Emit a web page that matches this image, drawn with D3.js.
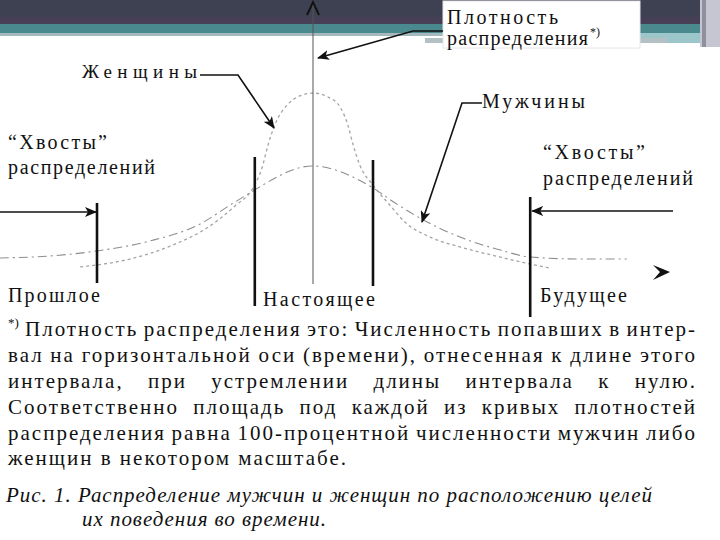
<!DOCTYPE html>
<html>
<head>
<meta charset="utf-8">
<script src="https://cdn.jsdelivr.net/npm/d3@7"></script>
<style>
  body { margin: 0; background: #fff; }
  svg { display: block; }
</style>
</head>
<body>
<script>
// density curves: t = time (0 = present), d = relative density
var womenT = [-3.88, -3.6, -3.05, -2.38, -1.72, -1.3, -1.0, -0.85, -0.75, -0.63, -0.43, -0.22, 0, 0.25, 0.45, 0.58, 0.67, 0.78, 1.0, 1.28, 1.53, 1.95, 2.45, 3.12, 3.62, 3.95];
var womenD = [0.017, 0.028, 0.061, 0.133, 0.244, 0.356, 0.456, 0.567, 0.694, 0.811, 0.917, 0.967, 0.983, 0.961, 0.906, 0.806, 0.694, 0.583, 0.472, 0.361, 0.267, 0.183, 0.128, 0.072, 0.033, 0.011];
var menT = [-5.22, -4.38, -3.6, -2.72, -1.88, -1.38, -1.0, -0.63, -0.3, 0, 0.32, 0.7, 1.0, 1.37, 1.78, 2.45, 3.12, 3.62, 4.45, 5.23];
var menD = [0.067, 0.078, 0.106, 0.161, 0.256, 0.361, 0.439, 0.511, 0.561, 0.578, 0.561, 0.511, 0.456, 0.372, 0.289, 0.183, 0.111, 0.072, 0.061, 0.061];

// time boundaries: past | present (two edges) | future
var bounds = [-3.6, -0.97, 1.0, 3.62];

var footnote = [
  "Плотность распределения это: Численность попавших в интер-",
  "вал на горизонтальной оси (времени), отнесенная к длине этого",
  "интервала, при устремлении длины интервала к нулю.",
  "Соответственно площадь под каждой из кривых плотностей",
  "распределения равна 100-процентной численности мужчин либо",
  "женщин в некотором масштабе."
];
var caption = [
  "Рис. 1. Распределение мужчин и женщин по расположению целей",
  "их поведения во времени."
];

var FONT = "'Liberation Serif'";

var w = 720, h = 540;
var svg = d3.select("body").append("svg")
    .attr("width", w)
    .attr("height", h);

// every text goes through here so the serif face is set on the element itself
function txt(sel) {
  return sel.append("text").style("font-family", FONT).attr("fill", "#111");
}

var x = d3.scaleLinear().domain([-5.2, 6.8]).range([1, 721]);
var y = d3.scaleLinear().domain([0, 1]).range([270, 90]);

// slide header
svg.append("rect").attr("x", 0).attr("y", 0).attr("width", w).attr("height", 24).attr("fill", "#3e4151");
svg.append("rect").attr("x", 0).attr("y", 17).attr("width", w).attr("height", 7).attr("fill", "#463f55");
svg.append("rect").attr("x", 0).attr("y", 24).attr("width", w).attr("height", 9).attr("fill", "#4a8a8f");
svg.append("rect").attr("x", 0).attr("y", 33).attr("width", w).attr("height", 3).attr("fill", "#a5b8be");
svg.append("rect").attr("x", 640).attr("y", 33).attr("width", 60).attr("height", 10).attr("fill", "#9cc6ca");
svg.append("rect").attr("x", 425).attr("y", 38).attr("width", 242).attr("height", 5).attr("fill", "#b3c1c5");
svg.append("rect").attr("x", 700).attr("y", 0).attr("width", 20).attr("height", 47).attr("fill", "#c6c6d2");
svg.append("rect").attr("x", 702).attr("y", 0).attr("width", 4).attr("height", 47).attr("fill", "#8f909e");
// white label box
svg.append("rect").attr("x", 443).attr("y", 1).attr("width", 197).attr("height", 47)
    .attr("fill", "#fff").attr("stroke", "#e6e6ea").attr("stroke-width", 1);

var defs = svg.append("defs");
defs.append("marker")
    .attr("id", "head")
    .attr("viewBox", "0 0 12 10")
    .attr("refX", 11).attr("refY", 5)
    .attr("markerWidth", 12).attr("markerHeight", 10)
    .attr("markerUnits", "userSpaceOnUse")
    .attr("orient", "auto")
  .append("path")
    .attr("d", "M0,0 L12,5 L0,10 L3,5 Z")
    .attr("fill", "#111");

// curves
var line = d3.line()
    .x(function(d) { return x(d[0]); })
    .y(function(d) { return y(d[1]); })
    .curve(d3.curveMonotoneX);

svg.append("path")
    .datum(d3.zip(menT, menD))
    .attr("d", line)
    .attr("fill", "none")
    .attr("stroke", "#8e8e8e")
    .attr("stroke-width", 1.1)
    .attr("stroke-dasharray", "9,4,2,4");

svg.append("path")
    .datum(d3.zip(womenT, womenD))
    .attr("d", line)
    .attr("fill", "none")
    .attr("stroke", "#a4a4a4")
    .attr("stroke-width", 1.3)
    .attr("stroke-dasharray", "3,3");

// vertical axis (t = 0) with open arrowhead
var x0 = x(0);
svg.append("line")
    .attr("x1", x0).attr("x2", x0)
    .attr("y1", 284).attr("y2", 2)
    .attr("stroke", "#555").attr("stroke-width", 1);
svg.append("path")
    .attr("d", "M" + (x0 - 6) + ",15 L" + x0 + ",2 L" + (x0 + 6) + ",15")
    .attr("fill", "none").attr("stroke", "#111").attr("stroke-width", 1.8);

// time axis arrowhead
svg.append("path")
    .attr("d", "M653,265 L670,272 L653,280 L660,272 Z")
    .attr("fill", "#111");

// boundary lines
var boundTop = [203, 157, 160, 197];
var boundBottom = [283, 306, 286, 317];
svg.selectAll(".bound")
    .data(bounds)
    .enter()
    .append("line")
    .attr("class", "bound")
    .attr("x1", function(d) { return x(d); })
    .attr("x2", function(d) { return x(d); })
    .attr("y1", function(d, i) { return boundTop[i]; })
    .attr("y2", function(d, i) { return boundBottom[i]; })
    .attr("stroke", "#111")
    .attr("stroke-width", 2.6);

// pointer arrows
var arrows = [
  "M200,75 L238,75 L274,128",
  "M482,103 L462,103 L422,222",
  "M443,31 L413,31 L318,58",
  "M0,212 L" + (x(bounds[0]) - 1) + ",212",
  "M673,211 L" + (x(bounds[3]) + 2) + ",211"
];
svg.selectAll(".arrow")
    .data(arrows)
    .enter()
    .append("path")
    .attr("class", "arrow")
    .attr("d", function(d) { return d; })
    .attr("fill", "none")
    .attr("stroke", "#111")
    .attr("stroke-width", 1.6)
    .attr("marker-end", "url(#head)");

// labels
var labels = [
  { t: "Плотность", x: 447, y: 24, len: 111, s: 20 },
  { t: "распределения", x: 447, y: 45, len: 141, s: 20 },
  { t: "Женщины", x: 82, y: 78, len: 115, s: 19 },
  { t: "“Хвосты”", x: 8, y: 149, len: 99, s: 20 },
  { t: "распределений", x: 8, y: 174, len: 147, s: 20 },
  { t: "Мужчины", x: 482, y: 108, len: 103, s: 20 },
  { t: "“Хвосты”", x: 543, y: 159, len: 102, s: 20 },
  { t: "распределений", x: 543, y: 185, len: 150, s: 20 },
  { t: "Прошлое", x: 8, y: 302, len: 92, s: 20 },
  { t: "Настоящее", x: 263, y: 306, len: 112, s: 20 },
  { t: "Будущее", x: 540, y: 302, len: 87, s: 20 }
];
labels.forEach(function(d) {
  txt(svg)
      .attr("x", d.x)
      .attr("y", d.y)
      .attr("font-size", d.s)
      .attr("textLength", d.len)
      .attr("lengthAdjust", "spacing")
      .text(d.t);
});

txt(svg).attr("x", 590).attr("y", 36).attr("font-size", 12).text("*)");

// footnote, justified word by word
var fs = 21;
var probe = txt(svg).attr("font-size", fs).text(footnote[5]);
var ls = Math.max(0, (340 - probe.node().getComputedTextLength()) / footnote[5].length);
probe.remove();

txt(svg).attr("x", 8).attr("y", 327).attr("font-size", 13).text("*)");

var lineY = [336, 362, 388, 414, 440, 465];
footnote.forEach(function(str, i) {
  var x1 = i == 0 ? 25 : 8, x2 = 697;
  var words = str.split(" ");
  var g = svg.append("g");
  var nodes = words.map(function(wd) {
    return txt(g)
        .attr("y", lineY[i])
        .attr("font-size", fs)
        .attr("letter-spacing", ls)
        .text(wd);
  });
  var widths = nodes.map(function(n) { return n.node().getComputedTextLength(); });
  var total = d3.sum(widths);
  var gap = i == footnote.length - 1 ? ls + fs * 0.25 : (x2 - x1 - total) / (words.length - 1);
  var cx = x1;
  nodes.forEach(function(n, j) {
    n.attr("x", cx);
    cx += widths[j] + gap;
  });
});

// caption
var capPos = [{ x: 6, y: 502, len: 646 }, { x: 82, y: 526, len: 244 }];
caption.forEach(function(d, i) {
  txt(svg)
      .attr("x", capPos[i].x)
      .attr("y", capPos[i].y)
      .attr("font-size", 21)
      .attr("font-style", "italic")
      .attr("textLength", capPos[i].len)
      .attr("lengthAdjust", "spacing")
      .text(d);
});
</script>
</body>
</html>
